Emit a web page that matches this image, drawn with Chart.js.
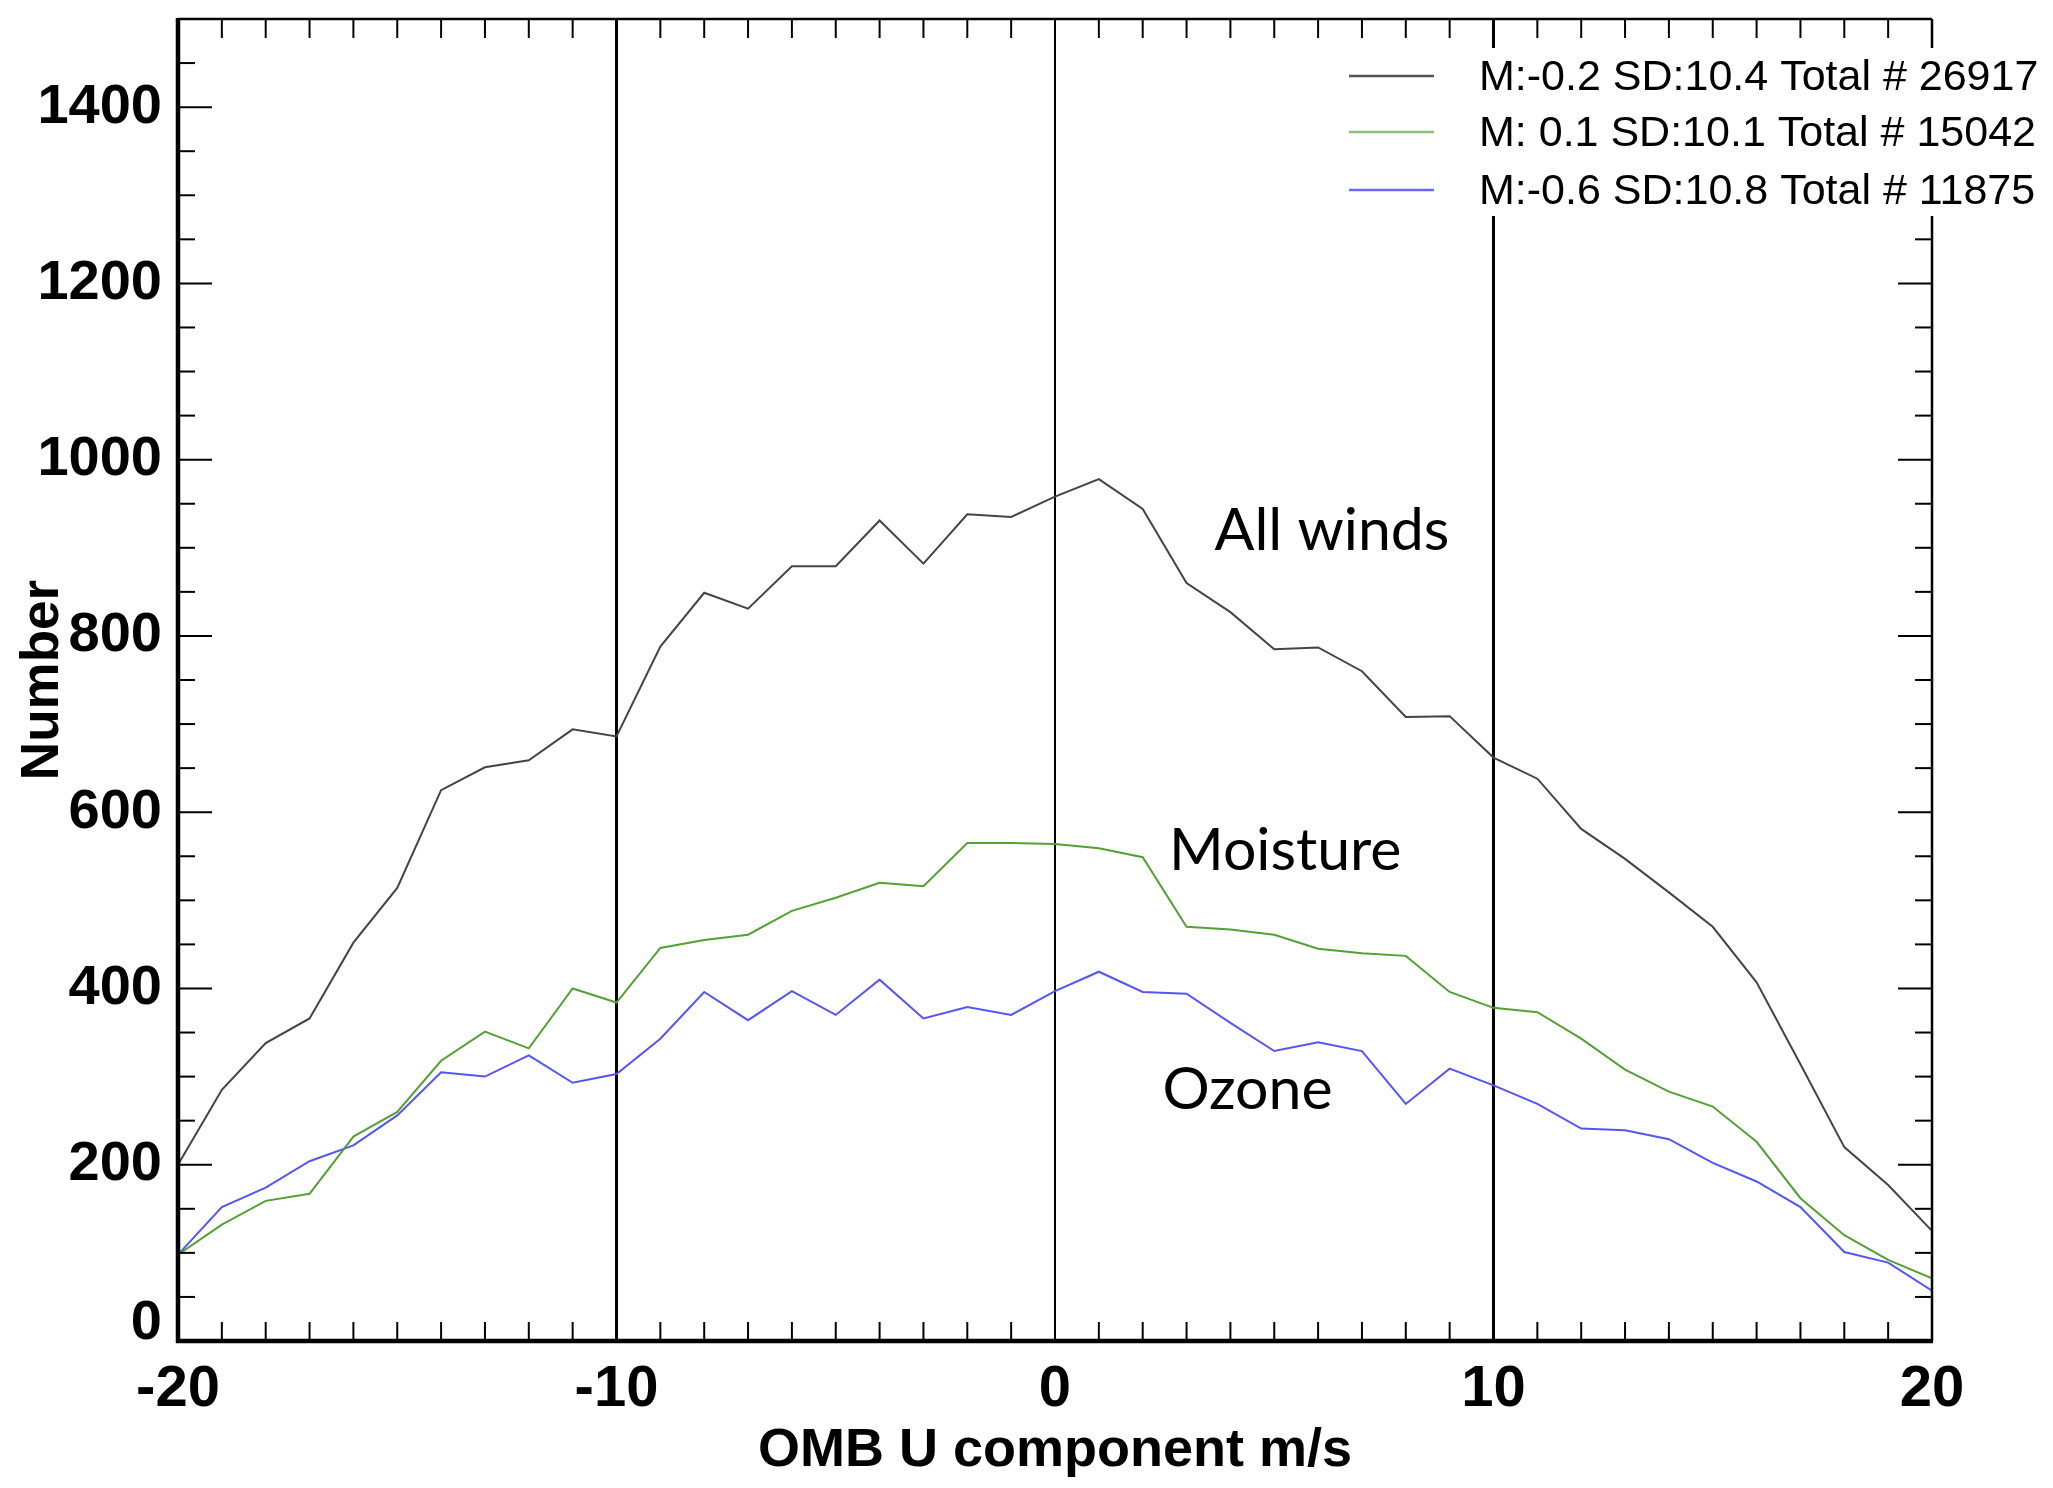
<!DOCTYPE html>
<html>
<head>
<meta charset="utf-8">
<script src="https://cdn.jsdelivr.net/npm/chart.js@4.4.0/dist/chart.umd.min.js"></script>
<style>
body { margin: 0; background: #fff; }
#wrap { width: 2053px; height: 1488px; }
</style>
</head>
<body>
<div id="wrap"><canvas id="omb"></canvas></div>
<script>
// OMB U component histogram, bins of 1 m/s
var xValues = [-20, -19, -18, -17, -16, -15, -14, -13, -12, -11, -10, -9, -8, -7, -6, -5, -4, -3, -2, -1,
    0, 1, 2, 3, 4, 5, 6, 7, 8, 9, 10, 11, 12, 13, 14, 15, 16, 17, 18, 19, 20];

var allWinds = [200, 285, 338, 366, 452, 514, 625, 651, 659, 694, 686, 788, 849, 831, 879, 879, 931, 882, 938, 935,
    958, 978, 944, 860, 827, 785, 787, 760, 708, 709, 662, 638, 581, 547, 509, 470, 407, 314, 220, 177, 125];

var moisture = [98, 132, 159, 167, 232, 260, 318, 351, 332, 400, 384, 446, 455, 461, 488, 503, 520, 516, 565, 565,
    564, 559, 549, 470, 467, 461, 445, 440, 437, 396, 378, 373, 343, 308, 283, 266, 226, 162, 120, 92, 71];

var ozone = [98, 152, 174, 204, 222, 256, 305, 300, 324, 293, 303, 343, 396, 364, 397, 370, 410, 366, 379, 370,
    397, 419, 396, 394, 361, 329, 339, 329, 269, 309, 290, 269, 241, 239, 229, 202, 181, 152, 101, 89, 57];

var seriesLabels = [
    "M:-0.2 SD:10.4 Total # 26917",
    "M: 0.1 SD:10.1 Total # 15042",
    "M:-0.6 SD:10.8 Total # 11875"
];

var yTicks = [0, 200, 400, 600, 800, 1000, 1200, 1400];
var xTicks = [-20, -10, 0, 10, 20];

// text labels placed in data coordinates (x, baseline y)
var curveNames = ["All winds", "Moisture", "Ozone"];
var curveNameX = [3.64, 2.6, 2.45];
var curveNameY = [898, 534, 263];


function toPoints(values) {
    return values.map((v, i) => ({ x: xValues[i], y: v }));
}

function strokeLine(ctx, x1, y1, x2, y2) {
    ctx.beginPath();
    ctx.moveTo(x1, y1);
    ctx.lineTo(x2, y2);
    ctx.stroke();
}

const tickFont = { family: '"Liberation Sans", Arial, sans-serif', size: 56, weight: 'bold' };

// box round the plot and the small inward ticks on all four sides
const framePlugin = {
    id: 'frame',
    afterDatasetsDraw(chart) {
        const { ctx, chartArea: a, scales: { x, y } } = chart;
        ctx.save();
        ctx.strokeStyle = '#000';
        ctx.lineWidth = 2;
        for (let v = -20; v <= 20; v++) {
            const px = x.getPixelForValue(v);
            const len = v % 10 === 0 ? 30 : 19;
            strokeLine(ctx, px, a.bottom, px, a.bottom - len);
            strokeLine(ctx, px, a.top, px, a.top + len);
        }
        for (let v = 0; v <= 1500; v += 50) {
            const py = y.getPixelForValue(v);
            const len = v % 200 === 0 ? 34 : 17;
            strokeLine(ctx, a.left, py, a.left + len, py);
            strokeLine(ctx, a.right, py, a.right - len, py);
        }
        ctx.lineWidth = 2.5;
        strokeLine(ctx, a.left, a.top, a.right, a.top);
        strokeLine(ctx, a.right, a.top, a.right, a.bottom);
        ctx.lineWidth = 4.5;
        strokeLine(ctx, a.left, a.top - 1, a.left, a.bottom + 2);
        strokeLine(ctx, a.left - 2, a.bottom, a.right + 1, a.bottom);
        ctx.restore();
    }
};

// legend in the top right corner (on a white box), plus the curve names
const notesPlugin = {
    id: 'notes',
    afterDraw(chart) {
        const { ctx, scales: { x, y } } = chart;
        ctx.save();
        ctx.fillStyle = '#fff';
        ctx.fillRect(1320, 48, 733, 168);

        const rows = [76, 132, 190];
        const legendColors = ['#555555', '#8fbf78', '#6a6af0'];
        ctx.font = '43px "Liberation Sans", Arial, sans-serif';
        ctx.textBaseline = 'middle';
        ctx.textAlign = 'left';
        chart.data.datasets.forEach((ds, i) => {
            ctx.strokeStyle = legendColors[i];
            ctx.lineWidth = 2.5;
            strokeLine(ctx, 1349, rows[i], 1434, rows[i]);
            ctx.fillStyle = '#000';
            ctx.fillText(ds.label, 1479, rows[i] + 2);
        });

        ctx.font = '59px Lato, "Open Sans", sans-serif';
        ctx.textBaseline = 'alphabetic';
        ctx.fillStyle = '#000';
        curveNames.forEach((name, i) => {
            ctx.fillText(name, x.getPixelForValue(curveNameX[i]), y.getPixelForValue(curveNameY[i]));
        });
        ctx.restore();
    }
};

const chart = new Chart(document.getElementById('omb'), {
    type: 'line',
    data: {
        datasets: [{
            label: seriesLabels[0],
            data: toPoints(allWinds),
            borderColor: '#444444',
            borderWidth: 2
        }, {
            label: seriesLabels[1],
            data: toPoints(moisture),
            borderColor: '#55a035',
            borderWidth: 2
        }, {
            label: seriesLabels[2],
            data: toPoints(ozone),
            borderColor: '#5555f5',
            borderWidth: 2
        }]
    },
    options: {
        responsive: true,
        maintainAspectRatio: false,
        animation: false,
        layout: { padding: { top: 19, right: 121, left: 0, bottom: 0 } },
        elements: {
            point: { radius: 0 },
            line: { tension: 0 }
        },
        plugins: {
            legend: { display: false },
            tooltip: { enabled: false }
        },
        scales: {
            x: {
                type: 'linear',
                min: -20,
                max: 20,
                afterBuildTicks: (scale) => { scale.ticks = xTicks.map(v => ({ value: v })); },
                afterFit: (scale) => { scale.height = 147; },
                border: { display: false },
                grid: {
                    drawTicks: false,
                    color: (c) => (c.tick && Math.abs(c.tick.value) === 20) ? 'rgba(0,0,0,0)' : '#000',
                    lineWidth: (c) => (c.tick && c.tick.value === 0) ? 2 : 3
                },
                ticks: {
                    color: '#000',
                    padding: 14,
                    maxRotation: 0,
                    font: { family: '"Liberation Sans", Arial, sans-serif', size: 58, weight: 'bold' }
                },
                title: {
                    display: true,
                    text: 'OMB U component m/s',
                    color: '#000',
                    padding: { top: 0, bottom: 4 },
                    font: { family: '"Liberation Sans", Arial, sans-serif', size: 54, weight: 'bold' }
                }
            },
            y: {
                min: 0,
                max: 1500,
                afterBuildTicks: (scale) => { scale.ticks = yTicks.map(v => ({ value: v })); },
                afterFit: (scale) => {
                    scale.width = 178;
                    scale.paddingTop = 0;
                    scale.paddingBottom = 0;
                },
                border: { display: false },
                grid: { display: false, drawTicks: false },
                ticks: {
                    color: '#000',
                    padding: 16,
                    // the 0 label sits a little above its tick, as in the original plot
                    callback: (v) => v === 0 ? ['0', ''] : String(v),
                    font: (c) => (c.tick && c.tick.value === 0) ? Object.assign({}, tickFont, { lineHeight: 0.64 }) : tickFont
                },
                title: {
                    display: true,
                    text: 'Number',
                    color: '#000',
                    padding: { top: 12, bottom: 0 },
                    font: { family: '"Liberation Sans", Arial, sans-serif', size: 53, weight: 'bold' }
                }
            }
        }
    },
    plugins: [framePlugin, notesPlugin]
});
</script>
</body>
</html>
